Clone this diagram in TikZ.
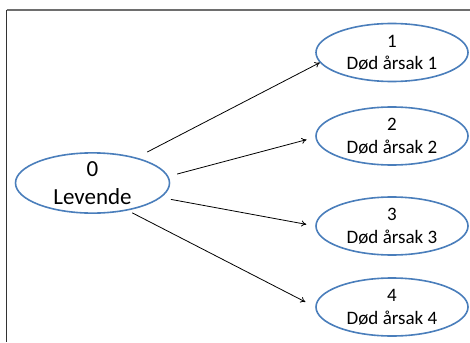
\documentclass[tikz,border=0pt]{standalone}
\usepackage{fontspec}
\setmainfont{Carlito}
\usetikzlibrary{shapes.geometric,arrows.meta}
\definecolor{ellblue}{RGB}{74,126,187}
\definecolor{framegray}{RGB}{110,110,110}
\begin{document}
\begin{tikzpicture}[x=1pt,y=-1pt,
  state/.style={ellipse, draw=ellblue, line width=1.6pt, minimum width=152pt, minimum height=58pt,
    inner sep=0pt, align=center, font=\fontsize{19}{22.5}\selectfont},
  arr/.style={draw=black, line width=0.8pt, -{To[length=5pt,width=6pt]}}]
\useasboundingbox (0,0) rectangle (470,342);
\coordinate (ftl) at (6.5,10);
\coordinate (ftr) at (470,10);
\coordinate (fbl) at (6.5,342);
\draw[framegray, line width=1.7pt] (ftl) -- (ftr);
\draw[black!80, line width=1.2pt] (ftl) -- (fbl);
\node[state, minimum width=154pt, minimum height=60pt, font=\fontsize{23}{27.5}\selectfont] (n0) at (92.5,183) {0\\Levende};
\node[state] (n1) at (392,52.5) {1\\Død årsak 1};
\node[state] (n2) at (392,136) {2\\Død årsak 2};
\node[state] (n3) at (392,226) {3\\Død årsak 3};
\node[state] (n4) at (392,307) {4\\Død årsak 4};
\draw[arr, shorten <=12pt] (n0.30) -- (n1.188);
\draw[arr, shorten <=9pt, shorten >=9pt] (n0.5) -- (n2.181);
\draw[arr, shorten <=10pt, shorten >=9pt] (n0.-12) -- (n3.180);
\draw[arr, shorten <=5pt, shorten >=11pt] (n0.-38) -- (n4.180);
\end{tikzpicture}
\end{document}
